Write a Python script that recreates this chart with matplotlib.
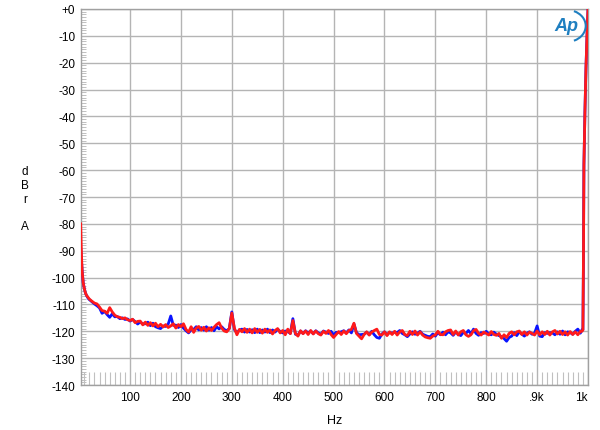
import numpy as np
import matplotlib
matplotlib.use("Agg")
import matplotlib.pyplot as plt
from matplotlib.patches import Arc
from matplotlib.ticker import MultipleLocator, FixedLocator

plt.rcParams['font.family'] = ['Liberation Sans', 'DejaVu Sans']

# ---------------- data ----------------
freq_low = [3, 4, 5, 6, 7, 8, 10, 12, 14, 16, 18]
freq_mid = list(range(20, 990, 5))
freq_high = [988, 990, 991, 992, 994, 996, 998, 1000]
freq = freq_low + freq_mid + freq_high

red_db = [
    -80, -88, -94, -98, -100, -102, -104, -105.5, -106.5, -107, -107.5,
    # 20-115
    -108, -108.8, -109.5, -109.8, -111, -112.3, -112.5, -113.3, -111.2, -112.8,
    -114, -114.6, -114.8, -115.3, -115, -115.7, -116, -115.5, -116.8, -116.3,
    # 120-215
    -116.2, -117.6, -116.6, -117.8, -116.8, -118, -117, -118.3, -117.4, -118.4,
    -117.5, -118.6, -118, -117.2, -118.8, -117.5, -118.3, -117.2, -119.3, -120.3,
    # 220-315
    -118.3, -120.4, -118.8, -118.2, -119.6, -118.5, -119.9, -118.7, -119.7, -118.5,
    -117.5, -116.8, -118.8, -119.9, -120.2, -119, -113.2, -118.8, -121.3, -119.3,
    # 320-415
    -120.2, -119, -120.4, -119.2, -120.6, -119, -120.4, -119.3, -120.7, -119.2,
    -120.4, -119.5, -121, -119.7, -119, -120.6, -119.7, -121.3, -119.2, -120.9,
    # 420-515
    -116, -120.8, -121.8, -119.8, -120.9, -119.9, -121.2, -119.7, -121, -119.9,
    -120.9, -121.4, -120, -120.8, -119.7, -121.2, -122.3, -121.2, -120.1, -121.2,
    # 520-615
    -119.9, -120.9, -119.7, -119.3, -117, -120.8, -121.8, -122.8, -121.2, -120.2,
    -121.4, -120.3, -119.7, -119.2, -121.2, -121.4, -120.2, -121.6, -120.2, -121.2,
    # 620-715
    -120, -121.4, -120.2, -119.7, -121.2, -121.6, -120, -121.2, -119.9, -121.4,
    -120.2, -121.4, -122.1, -122.4, -122.6, -121.8, -121.3, -120, -121.2, -121.3,
    # 720-815
    -120.2, -119.7, -119.5, -121.2, -119.9, -121.4, -120.2, -119.7, -121.3, -121.9,
    -121.3, -119.8, -119.3, -120.8, -121.4, -120.3, -120.8, -121.4, -120.1, -121.2,
    # 820-915
    -121.5, -120.8, -122.6, -121.3, -122.3, -120.8, -120.2, -121.3, -120.2, -119.9,
    -121.2, -120.2, -121.4, -120.3, -120.8, -121.4, -119.9, -121.3, -120.2, -121.2,
    # 920-985
    -120, -121.4, -120.2, -119.7, -121, -120, -121.2, -120.2, -121.4, -120.1,
    -121.2, -120.2, -121.3, -120,
    # rise to 1 kHz
    -120, -119.5, -95, -58, -38, -22, -10, 0,
]

blue_db = [
    -89, -92, -95, -98, -100, -102, -104, -105.5, -106.5, -107.2, -107.8,
    # 20-115
    -108.2, -109, -109.8, -110.5, -111.3, -113.3, -112.6, -113.8, -114.8, -113.5,
    -114.6, -114.5, -115.3, -115, -115.6, -115.4, -116.2, -115.6, -116.4, -117.3,
    # 120-215
    -116.5, -117.3, -117.2, -116.6, -117.9, -117, -118.3, -118.7, -119, -118,
    -118.2, -117.3, -114.3, -117.8, -117.7, -118.6, -117.5, -118.8, -119.8, -120.6,
    # 220-315
    -119.5, -119.3, -118.3, -119.5, -118.6, -119.6, -118.3, -119.6, -118.6, -119.8,
    -118.3, -119.1, -118.3, -119.3, -119.8, -119, -112.8, -119.3, -120.6, -119.5,
    # 320-415
    -119.2, -120.3, -119.3, -120.3, -119.4, -120.5, -119.2, -120.5, -119.5, -120.3,
    -119.2, -120.5, -119.5, -120.3, -119.2, -120.1, -120.6, -119.9, -120.1, -120.8,
    # 420-515
    -115.3, -121.1, -121.4, -119.9, -120.8, -119.8, -120.6, -119.9, -120.9, -119.8,
    -120.6, -121.1, -119.9, -120.3, -120.8, -120, -121.3, -120.4, -120.5, -120.2,
    # 520-615
    -119.8, -120.6, -119.5, -120.6, -117.3, -120.5, -121.3, -121.2, -121.1, -120.3,
    -121.3, -120, -121.3, -122.3, -122.6, -121, -120.2, -121.3, -120.4, -120.7,
    # 620-715
    -120.3, -120.5, -119.7, -120.8, -121.3, -122, -121, -120.2, -121.1, -120.7,
    -120, -121.1, -121.5, -121.9, -122, -121, -121.8, -120.5, -121.3, -120.3,
    # 720-815
    -121.3, -120.2, -120.6, -121.5, -120.3, -121.1, -121.6, -120.4, -120.8, -119.7,
    -120.9, -119.2, -120.8, -121.5, -120.5, -120.8, -120, -121.1, -121.3, -120.3,
    # 820-915
    -121.1, -121.6, -122, -122.7, -123.7, -122.3, -121.8, -120.5, -121.6, -120.2,
    -121.1, -121.8, -120.7, -120.2, -121.1, -120.7, -118, -121.8, -122, -120.5,
    # 920-985
    -120.8, -120.5, -120.6, -121.3, -120.2, -121.1, -119.9, -121.3, -120.2, -120.5,
    -121.1, -120, -119.2, -120.7,
    # rise to 1 kHz
    -119.5, -119.5, -95, -58, -38, -22, -10, 0,
]

x_ticks = [100, 200, 300, 400, 500, 600, 700, 800, 900, 1000]
x_tick_labels = ["100", "200", "300", "400", "500", "600", "700", "800", ".9k", "1k"]
y_ticks = [0, -10, -20, -30, -40, -50, -60, -70, -80, -90, -100, -110, -120, -130, -140]
y_tick_labels = ["+0"] + [str(v) for v in y_ticks[1:]]

# ---------------- figure ----------------
fig = plt.figure(figsize=(6.0, 4.31), dpi=100)
ax = fig.add_axes([0.1345, 0.1044, 0.98 - 0.1345, 0.9768 - 0.1044])

ax.plot(freq, blue_db, color="#0a14ff", lw=2.0, zorder=3)
ax.plot(freq, red_db, color="#ff1a1a", lw=2.0, zorder=4)

ax.set_xlim(3, 1000)
ax.set_ylim(-140, 0)

ax.xaxis.set_major_locator(FixedLocator(x_ticks))
ax.set_xticklabels(x_tick_labels)
ax.yaxis.set_major_locator(FixedLocator(y_ticks))
ax.set_yticklabels(y_tick_labels)
ax.get_xticklabels()[-1].set_horizontalalignment("right")

ax.grid(True, which="major", color="#b4b4b4", lw=1.0, zorder=1)
ax.tick_params(which="major", length=0, labelsize=8.5, colors="black", pad=4)

# minor ticks: 10 Hz along bottom, 1 dB along left, drawn inside
minor_x = [v for v in range(10, 1000, 10) if v % 100 != 0]
ax.xaxis.set_minor_locator(FixedLocator(minor_x))
ax.yaxis.set_minor_locator(MultipleLocator(1))
ax.tick_params(axis="x", which="minor", direction="in", length=9.5,
               width=0.8, color="#c0c0c0", bottom=True, top=False)
ax.tick_params(axis="y", which="minor", direction="in", length=3.5,
               width=0.7, color="#c0c0c0", left=True, right=False)

for s in ax.spines.values():
    s.set_color("#a0a0a0")
    s.set_linewidth(1.0)

ax.set_xlabel("Hz", fontsize=9, labelpad=8)

# stacked y label "dBr A"
for txt, yp in [("d", 172), ("B", 186), ("r", 200), ("A", 227)]:
    fig.text(25 / 600, 1 - yp / 431, txt, fontsize=8.5, ha="center", va="center")

# Ap logo
ax.text(0.958, 0.955, "Ap", transform=ax.transAxes, fontsize=13, fontstyle="italic",
        fontweight="bold", color="#1f7fc0", ha="center", va="center", zorder=5)
ax.add_patch(Arc((0.958, 0.955), 0.075, 0.085, theta1=-70, theta2=70,
                 transform=ax.transAxes, color="#1f7fc0", lw=1.5, zorder=5))

fig.savefig("out.png", dpi=100)
